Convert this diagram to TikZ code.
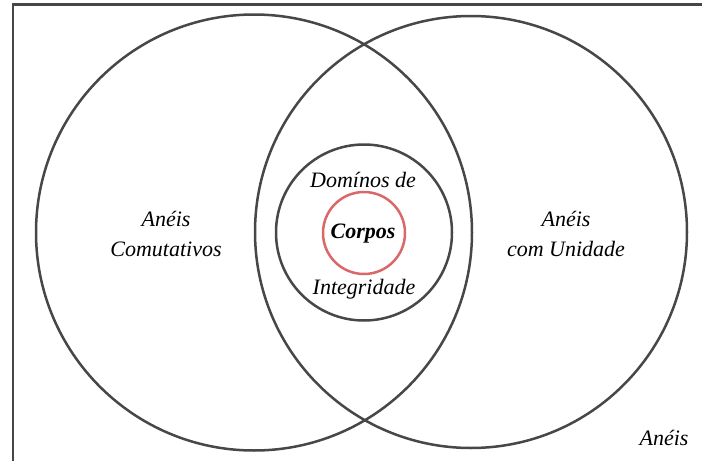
\documentclass[tikz,border=0pt]{standalone}
\usepackage{fontspec}
\setmainfont{Liberation Serif}
\definecolor{corposred}{RGB}{218,104,104}
\begin{document}
\begin{tikzpicture}[x=1pt, y=-1pt, every node/.style={font=\fontsize{22}{26}\selectfont\itshape},
  ring/.style={draw=black!72,line width=2.5pt,circle,inner sep=0pt},
  field/.style={draw=corposred,line width=2.5pt,circle,inner sep=0pt},
  lbl/.style={align=center,inner sep=0pt}]
  \useasboundingbox (0,0) rectangle (702,461);
  % outer frame (set of all rings)
  \draw[black!72,line width=2.8pt] (13,461) -- (13,4.5) -- (702,4.5);
  \node[ring,minimum size=436pt] (comut) at (254,232.5) {};
  \node[ring,minimum size=432pt] (unid) at (471,232) {};
  \node[ring,minimum size=176pt] (dom) at (364,232.5) {};
  \node[field,minimum size=82pt] (corpos) at (364,233) {};
  % labels
  \node[lbl] (tcomut) at (166,234) {An\'eis\\[4pt]Comutativos};
  \node[lbl] (tunid) at (566,234) {An\'eis\\[4pt]com Unidade};
  \node[lbl] (tdom) at (363,180) {Dom\'inos de};
  \node[lbl] (tint) at (364,289) {Integridade};
  \node[lbl,font=\fontsize{22}{26}\selectfont\bfseries\itshape] (tcorpos) at (363,234) {Corpos};
  \node[lbl] (tanel) at (664,438) {An\'eis};
\end{tikzpicture}
\end{document}
